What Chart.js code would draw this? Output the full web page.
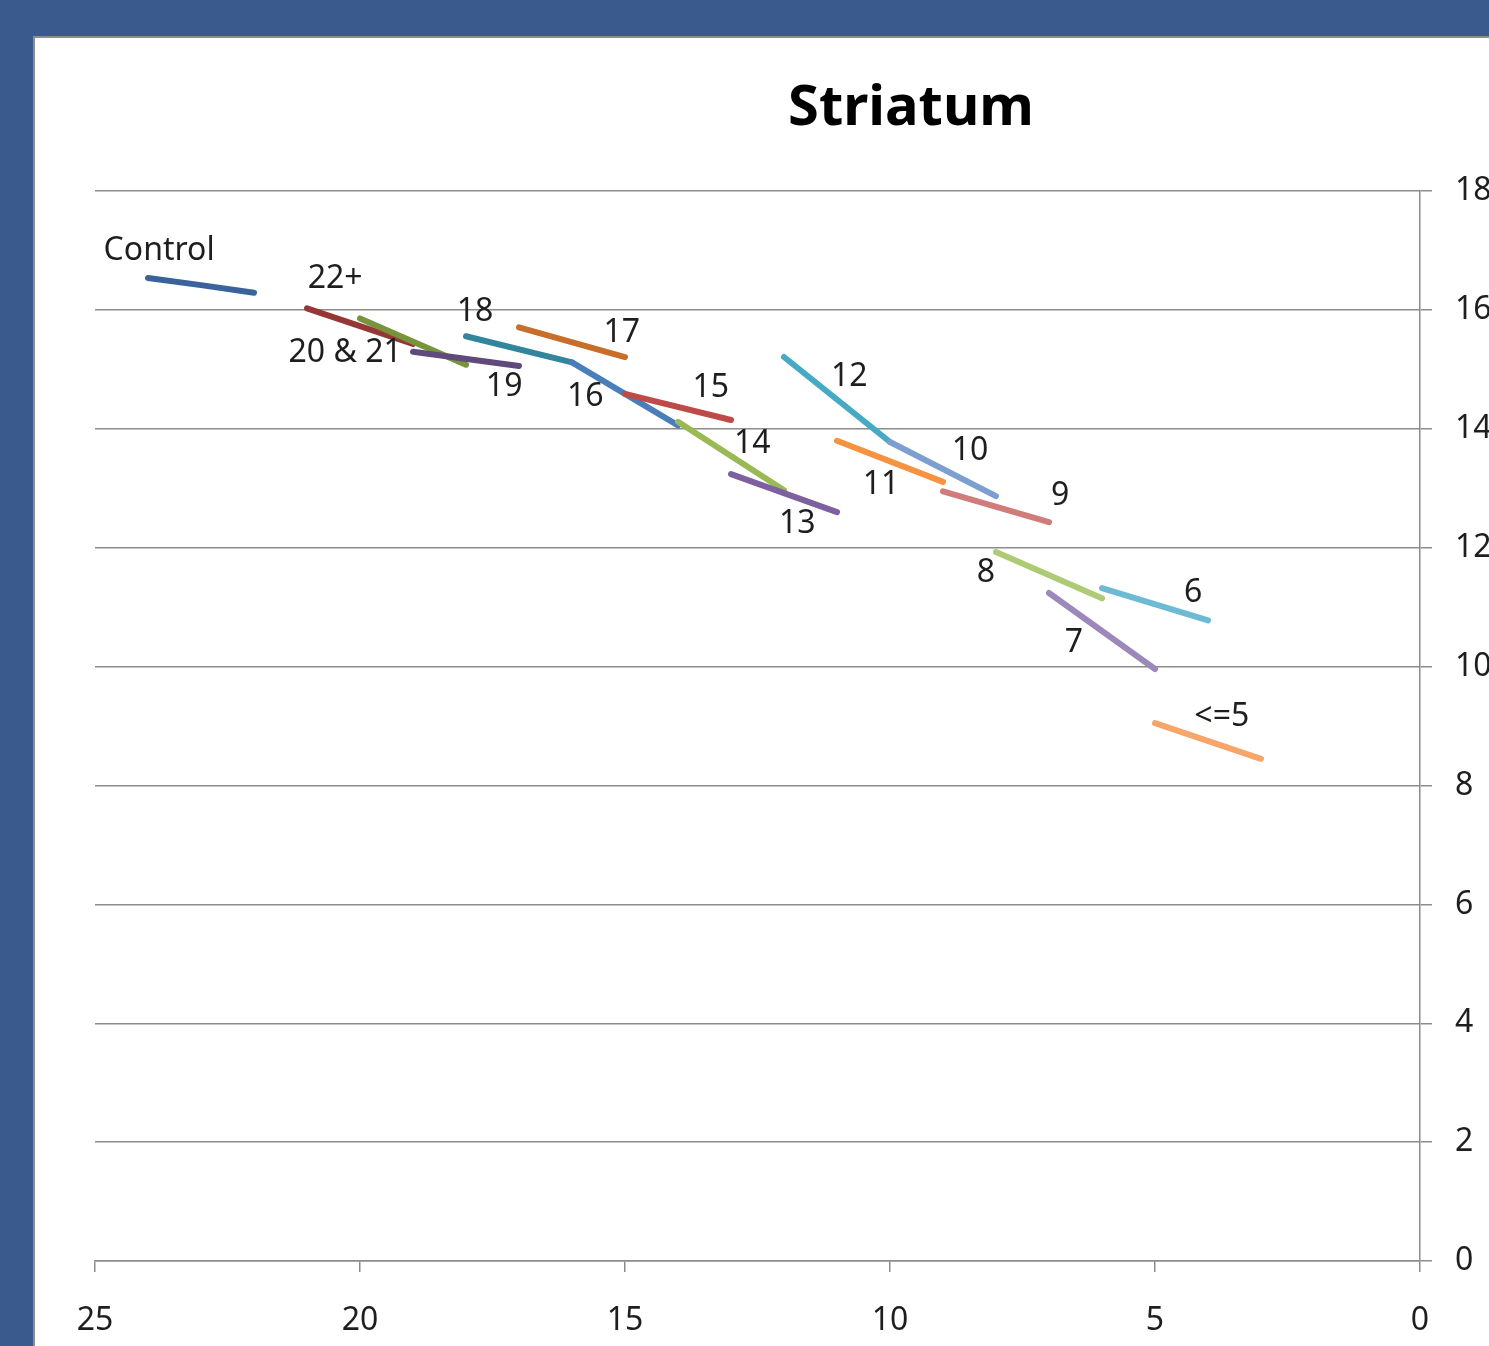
<!DOCTYPE html>
<html>
<head>
<meta charset="utf-8">
<script src="https://cdn.jsdelivr.net/npm/chart.js@4.4.1/dist/chart.umd.min.js"></script>
<style>
    html, body { margin: 0; padding: 0; width: 1489px; height: 1346px; overflow: hidden; background: #3a5a8d; }
    #panel { position: absolute; left: 33px; top: 36px; width: 1800px; height: 1400px;
             border-left: 2px solid #8e8e8e; border-top: 2px solid #8e8e8e; background: #fff; }
    #myChart { display: block; }
</style>
</head>
<body>
<div id="panel"><canvas id="myChart" width="1692" height="1308"></canvas></div>
<script>
// groupes d'age (de gauche a droite sur le graphique)
const groupNames = ['Control', '22+', '20 & 21', '19', '18', '17', '16', '15', '14',
                    '13', '12', '11', '10', '9', '8', '7', '6', '<=5'];

// ages (axe x, inverse) pour chaque groupe
const groupAges = [
    [24, 23, 22], [21, 19], [20, 18], [19, 17], [18, 16], [17, 15], [16, 14], [15, 13], [14, 12],
    [13, 11], [12, 10], [11, 9], [10, 8], [9, 7], [8, 6], [7, 5], [6, 4], [5, 3]
];

// valeurs mesurees (axe y)
const groupValues = [
    [16.54, 16.42, 16.29], [16.03, 15.43], [15.86, 15.08], [15.30, 15.06], [15.56, 15.12],
    [15.71, 15.21], [15.12, 14.06], [14.59, 14.15], [14.12, 12.97], [13.24, 12.60],
    [15.21, 13.78], [13.80, 13.11], [13.78, 12.87], [12.95, 12.43], [11.93, 11.15],
    [11.24, 9.96], [11.32, 10.78], [9.05, 8.45]
];

const xTicks = [25, 20, 15, 10, 5, 0];
const yTicks = [0, 2, 4, 6, 8, 10, 12, 14, 16, 18];

// couleurs des lignes
const lineColors = ['#3a639c', '#953735', '#77933c', '#604a7b', '#31859c', '#c66e2a',
                    '#4a7ebb', '#be4b48', '#98b954', '#7d60a0', '#46aac5', '#f69240',
                    '#7c9ed0', '#d07c7a', '#adcb74', '#9c88bb', '#6dbad5', '#f8a56c'];

// emplacement des etiquettes (en unites des axes)
const labelX = [23.79, 20.47, 20.28, 17.28, 17.83, 15.06, 15.75, 13.38, 12.60,
                11.75, 10.77, 10.17, 8.49, 6.79, 8.19, 6.53, 4.28, 3.74];
const labelY = [16.99, 16.52, 15.28, 14.70, 15.97, 15.61, 14.54, 14.69, 13.74,
                12.40, 14.87, 13.06, 13.63, 12.87, 11.57, 10.40, 11.24, 9.15];

const gridColor = '#8c8c8c';

// dessine le nom de chaque groupe pres de sa ligne
const groupLabels = {
    id: 'groupLabels',
    afterDatasetsDraw(chart) {
        const ctx = chart.ctx;
        const xs = chart.scales.x, ys = chart.scales.y;
        ctx.save();
        ctx.font = '32px "Noto Sans"';
        ctx.fillStyle = '#1e1e1e';
        ctx.textAlign = 'center';
        ctx.textBaseline = 'middle';
        groupNames.forEach(function(name, i) {
            ctx.fillText(name, xs.getPixelForValue(labelX[i]), ys.getPixelForValue(labelY[i]));
        });
        ctx.restore();
    }
};

let datasets = groupNames.map(function(name, i) {
    return {
        label: name,
        data: groupAges[i].map(function(a, j) { return { x: a, y: groupValues[i][j] }; }),
        borderColor: lineColors[i],
        backgroundColor: lineColors[i],
        borderWidth: 6,
        borderCapStyle: 'round',
        borderJoinStyle: 'round',
        pointRadius: 0,
        tension: 0,
        order: groupNames.length - i // les derniers groupes passent au-dessus
    };
});

Chart.defaults.font.family = '"Noto Sans", sans-serif';
Chart.defaults.color = '#1e1e1e';

const ctx = document.getElementById('myChart').getContext('2d');
new Chart(ctx, {
    type: 'line',
    data: { datasets: datasets },
    plugins: [groupLabels],
    options: {
        responsive: false,
        animation: false,
        devicePixelRatio: 1,
        layout: { padding: { left: 60, top: 0, right: 0, bottom: 0 } },
        plugins: {
            legend: { display: false },
            tooltip: { enabled: false },
            title: {
                display: true,
                text: 'Striatum',
                color: '#000',
                font: { size: 56, weight: 'bold', lineHeight: 1.2 },
                padding: { top: 37, bottom: 49 }
            }
        },
        scales: {
            x: {
                type: 'linear',
                min: 0,
                max: 25,
                reverse: true,
                afterBuildTicks: function(axis) { axis.ticks = xTicks.map(function(v) { return { value: v }; }); },
                afterFit: function(axis) { axis.height = 85; },
                grid: { drawOnChartArea: false, color: gridColor, lineWidth: 1.5, tickLength: 11 },
                border: { color: gridColor, width: 1.5 },
                ticks: { font: { size: 32 }, padding: 30, maxRotation: 0 }
            },
            y: {
                type: 'linear',
                position: 'right',
                min: 0,
                max: 18,
                afterBuildTicks: function(axis) { axis.ticks = yTicks.map(function(v) { return { value: v }; }); },
                afterFit: function(axis) { axis.width = 307; },
                grid: { color: gridColor, lineWidth: 1.5, tickLength: 12 },
                border: { color: gridColor, width: 1.5 },
                ticks: { font: { size: 32 }, padding: 23 }
            }
        }
    }
});
</script>
</body>
</html>
